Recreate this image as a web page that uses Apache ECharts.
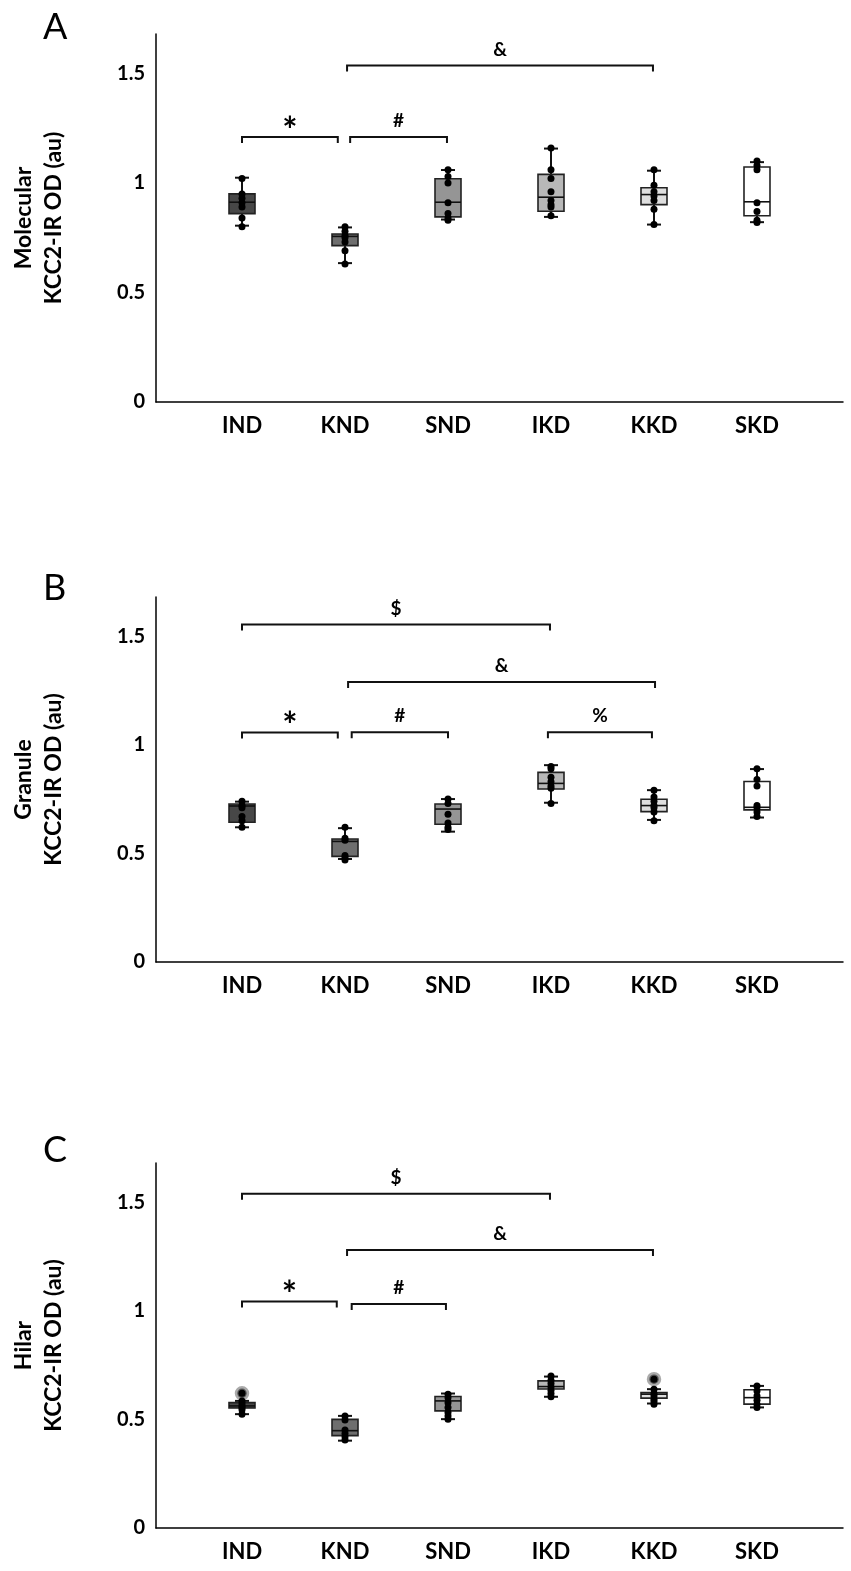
<!DOCTYPE html>
<html><head><meta charset="utf-8">
<script src="https://cdn.jsdelivr.net/npm/echarts@6/dist/echarts.min.js"></script>
<style>html,body{margin:0;padding:0;background:#fff}#c{width:851px;height:1571px}</style>
</head><body><div id="c"></div>
<script>
const categories = ['IND','KND','SND','IKD','KKD','SKD'];
const panelLetters = ['A','B','C'];
const regionNames = ['Molecular','Granule','Hilar'];
const yAxisLabel = 'KCC2-IR OD (au)';
const boxFill = ['#474747','#6e6e6e','#959595','#b8b8b8','#dedede','#ffffff'];

// [whiskerLow, q1, median, q3, whiskerHigh] per category
const boxA = [
  [0.805,0.860,0.912,0.950,1.024],
  [0.634,0.714,0.756,0.767,0.797],
  [0.833,0.845,0.912,1.019,1.059],
  [0.845,0.871,0.935,1.039,1.157],
  [0.810,0.901,0.947,0.978,1.056],
  [0.821,0.850,0.914,1.073,1.095]
];
const pointsA = [
  [1.02,0.95,0.93,0.91,0.89,0.84,0.80],
  [0.80,0.78,0.76,0.75,0.73,0.69,0.63],
  [1.06,1.03,1.00,0.91,0.86,0.84,0.83],
  [1.16,1.06,1.02,0.96,0.92,0.90,0.89,0.85],
  [1.06,0.99,0.96,0.94,0.92,0.88,0.81],
  [1.10,1.08,1.06,0.91,0.87,0.83,0.82]
];
const outliersA = [[],[],[],[],[],[]];

const boxB = [
  [0.620,0.643,0.718,0.727,0.738],
  [0.474,0.486,0.555,0.566,0.616],
  [0.600,0.634,0.704,0.727,0.750],
  [0.733,0.796,0.822,0.873,0.906],
  [0.654,0.692,0.720,0.749,0.791],
  [0.665,0.700,0.712,0.831,0.888]
];
const pointsB = [
  [0.74,0.72,0.71,0.67,0.65,0.62],
  [0.62,0.57,0.56,0.49,0.48,0.47],
  [0.75,0.73,0.68,0.64,0.62,0.61],
  [0.90,0.89,0.85,0.83,0.81,0.80,0.73],
  [0.79,0.76,0.74,0.72,0.71,0.69,0.65],
  [0.89,0.84,0.81,0.72,0.71,0.69,0.67]
];
const outliersB = [[],[],[],[],[],[]];

const boxC = [
  [0.524,0.552,0.562,0.577,0.585],
  [0.402,0.425,0.448,0.500,0.516],
  [0.501,0.539,0.585,0.605,0.619],
  [0.604,0.640,0.651,0.677,0.697],
  [0.573,0.598,0.616,0.623,0.639],
  [0.555,0.570,0.600,0.636,0.654]
];
const pointsC = [
  [0.585,0.573,0.562,0.555,0.544,0.524],
  [0.516,0.497,0.451,0.435,0.420,0.405],
  [0.616,0.600,0.577,0.555,0.532,0.516,0.501],
  [0.700,0.680,0.665,0.649,0.634,0.619,0.604],
  [0.639,0.619,0.608,0.593,0.582,0.570],
  [0.654,0.631,0.608,0.588,0.570,0.555]
];
const outliersC = [[0.620],[],[],[],[0.685],[]];

// significance brackets: [xStart, xEnd, y, label]
const bracketsA = [[0,0.93,1.21,'*'],[1.05,1.99,1.21,'#'],[1.02,3.99,1.536,'&']];
const bracketsB = [[0,2.99,1.554,'$'],[1.03,4.01,1.289,'&'],[0,0.93,1.056,'*'],[1.065,2.0,1.057,'#'],[2.97,3.98,1.057,'%']];
const bracketsC = [[0,2.99,1.538,'$'],[1.02,3.99,1.280,'&'],[0,0.92,1.042,'*'],[1.065,1.98,1.031,'#']];

const panels = [
  {box: boxA, pts: pointsA, out: outliersA, br: bracketsA, top: 34, h: 368},
  {box: boxB, pts: pointsB, out: outliersB, br: bracketsB, top: 597, h: 365},
  {box: boxC, pts: pointsC, out: outliersC, br: bracketsC, top: 1163, h: 365}
];
const FONT = 'Lato';

const chart = echarts.init(document.getElementById('c'), null, {renderer: 'canvas'});
const option = {
  backgroundColor: '#fff',
  animation: false,
  title: panelLetters.map((t, i) => ({
    text: t, left: 38, top: [4, 565, 1127][i],
    textStyle: {fontFamily: FONT, fontSize: 36, fontWeight: 'normal', color: '#000'}
  })),
  grid: panels.map(p => ({left: 156, right: 8, top: p.top, height: p.h})),
  xAxis: panels.map((p, i) => ({
    type: 'value', gridIndex: i, min: -0.835, max: 5.835,
    splitLine: {show: false}, axisTick: {show: false},
    axisLine: {show: true, onZero: false, lineStyle: {color: '#000', width: 1.5}},
    axisLabel: {
      margin: 13, fontFamily: FONT, fontSize: 22, fontWeight: 'bold', color: '#000',
      formatter: v => {
        const r = Math.round(v);
        return (Math.abs(v - r) < 1e-6 && r >= 0 && r < categories.length) ? categories[r] : '';
      }
    }
  })),
  yAxis: panels.map((p, i) => ({
    type: 'value', gridIndex: i, min: 0, max: 1.68, interval: 0.5,
    splitLine: {show: false}, axisTick: {show: false},
    axisLine: {show: true, onZero: false, lineStyle: {color: '#000', width: 1.5}},
    axisLabel: {
      margin: 11, fontFamily: FONT, fontSize: 20, fontWeight: 'bold', color: '#000',
      formatter: v => (Math.abs(v * 2 - Math.round(v * 2)) < 1e-6 ? String(v) : '')
    },
    name: regionNames[i] + '\n' + yAxisLabel,
    nameLocation: 'middle', nameGap: 87,
    nameTextStyle: {fontFamily: FONT, fontSize: 23, fontWeight: 'bold', color: '#000', lineHeight: 30}
  })),
  series: []
};

panels.forEach((p, i) => {
  option.series.push({
    type: 'custom', xAxisIndex: i, yAxisIndex: i, z: 2,
    data: p.box.map((b, j) => [j].concat(b)),
    renderItem: (params, api) => {
      const x = api.value(0);
      const lo = api.coord([x, api.value(1)]);
      const q1 = api.coord([x, api.value(2)]);
      const md = api.coord([x, api.value(3)]);
      const q3 = api.coord([x, api.value(4)]);
      const hi = api.coord([x, api.value(5)]);
      const cx = lo[0], bw = 26, cw = 14;
      const ls = {stroke: '#111', lineWidth: 2};
      return {type: 'group', children: [
        {type: 'line', shape: {x1: cx, y1: hi[1], x2: cx, y2: q3[1]}, style: ls},
        {type: 'line', shape: {x1: cx, y1: q1[1], x2: cx, y2: lo[1]}, style: ls},
        {type: 'line', shape: {x1: cx - cw / 2, y1: hi[1], x2: cx + cw / 2, y2: hi[1]}, style: ls},
        {type: 'line', shape: {x1: cx - cw / 2, y1: lo[1], x2: cx + cw / 2, y2: lo[1]}, style: ls},
        {type: 'rect', shape: {x: cx - bw / 2, y: q3[1], width: bw, height: q1[1] - q3[1]},
          style: {fill: boxFill[x], stroke: '#222', lineWidth: 1.6}},
        {type: 'line', shape: {x1: cx - bw / 2, y1: md[1], x2: cx + bw / 2, y2: md[1]}, style: {stroke: '#111', lineWidth: 1.6}}
      ]};
    }
  });
  const outData = [];
  p.out.forEach((arr, j) => arr.forEach(v => outData.push([j, v])));
  option.series.push({
    type: 'scatter', xAxisIndex: i, yAxisIndex: i, z: 3, symbolSize: 12,
    itemStyle: {color: '#555', borderColor: '#aaa', borderWidth: 2.5, opacity: 1},
    data: outData
  });
  const ptData = [];
  p.pts.forEach((arr, j) => arr.forEach(v => ptData.push([j, v])));
  option.series.push({
    type: 'scatter', xAxisIndex: i, yAxisIndex: i, z: 4, symbolSize: 7,
    itemStyle: {color: '#000', opacity: 1},
    data: ptData.concat(outData)
  });
  option.series.push({
    type: 'custom', xAxisIndex: i, yAxisIndex: i, z: 2,
    data: p.br.map(b => [b[0], b[1], b[2]]),
    renderItem: (params, api) => {
      const a = api.coord([api.value(0), api.value(2)]);
      const b = api.coord([api.value(1), api.value(2)]);
      const lab = p.br[params.dataIndex][3];
      const star = lab === '*';
      const foot = 6;
      const ls = {stroke: '#111', lineWidth: 2, fill: null};
      return {type: 'group', children: [
        {type: 'polyline', shape: {points: [[a[0], a[1] + foot], [a[0], a[1]], [b[0], b[1]], [b[0], b[1] + foot]]}, style: ls},
        {type: 'text', x: (a[0] + b[0]) / 2, y: a[1] - (star ? 6 : 16),
          style: {text: lab, fontFamily: FONT, fontSize: star ? 36 : 19, fontWeight: 'bold', fill: '#000',
            align: 'center', verticalAlign: 'middle'}}
      ]};
    }
  });
});

chart.setOption(option);
</script>
</body></html>
